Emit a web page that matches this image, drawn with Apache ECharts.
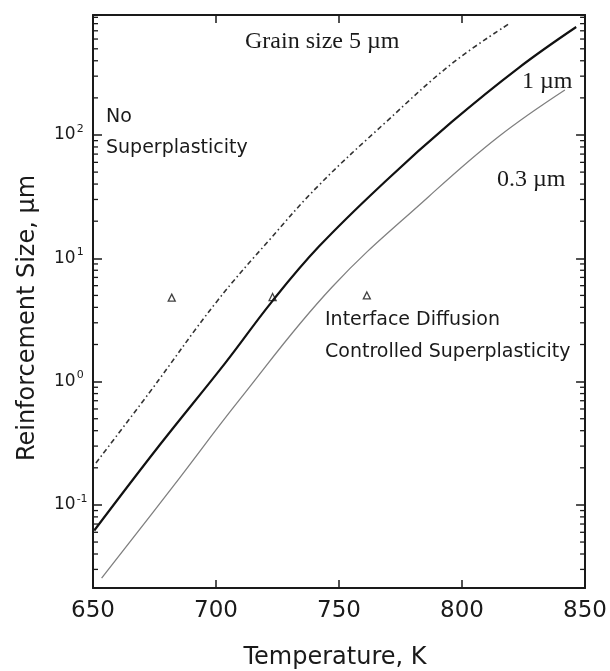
<!DOCTYPE html>
<html>
<head>
<meta charset="utf-8">
<script src="https://cdn.jsdelivr.net/npm/echarts@6/dist/echarts.min.js"></script>
<style>
  html, body { margin: 0; padding: 0; background: #fff; }
  #chart { width: 610px; height: 671px; }
</style>
</head>
<body>
<div id="chart"></div>
<script>
(function () {
    // temperatures (K) and reinforcement sizes (um)
    const temp5 = [651.2, 673.1, 700.2, 721.7, 741.9, 769.0, 795.7, 819.6];
    const size5 = [0.219, 0.824, 4.43, 14.1, 39.3, 127, 377, 809];

    const temp1 = [650.5, 677.1, 703.8, 722.9, 741.9, 769.0, 795.7, 822.9, 846.4];
    const size1 = [0.062, 0.306, 1.42, 4.5, 12.5, 42.4, 127, 349, 751];

    const temp03 = [653.5, 682.4, 709.5, 747.2, 786.4, 814.8, 841.8];
    const size03 = [0.0255, 0.14, 0.71, 5.85, 31.6, 96.9, 232];

    const triTemp = [682, 723, 761.3];
    const triSize = [4.8, 4.85, 5.0];

    const xMin = 650, xMax = 850, xStep = 50;
    const yMin = 0.0212, yMax = 940;

    // minor tick values on the log axis (2..9 x 10^k)
    const minorVals = [];
    for (let k = -2; k <= 2; k++) {
        for (let m = 2; m <= 9; m++) {
            const v = m * Math.pow(10, k);
            if (v > yMin && v < yMax) minorVals.push(v);
        }
    }

    const pair = (xs, ys) => xs.map((x, i) => [x, ys[i]]);
    const ink = '#1a1a1a';
    const sans = 'DejaVu Sans';
    const serif = 'Liberation Serif';

    const logLabel = function (v) {
        const l = Math.log10(v);
        const e = Math.round(l);
        if (Math.abs(l - e) > 1e-6) return '';
        return '{b|10}{s|' + e + '}';
    };

    const option = {
        animation: false,
        backgroundColor: '#fff',
        grid: { left: 93, right: 23, top: 15, bottom: 83 },
        xAxis: [
            {
                type: 'value', position: 'bottom', min: xMin, max: xMax, interval: xStep,
                axisLine: { lineStyle: { color: ink, width: 2 } },
                axisTick: { inside: true, length: 8, lineStyle: { color: ink, width: 1.5 } },
                axisLabel: { margin: 12, color: ink, fontSize: 23, fontFamily: sans },
                splitLine: { show: false }
            },
            {
                type: 'value', position: 'top', min: xMin, max: xMax, interval: xStep,
                axisLine: { lineStyle: { color: ink, width: 2 } },
                axisTick: { inside: true, length: 8, lineStyle: { color: ink, width: 1.5 } },
                axisLabel: { show: false },
                splitLine: { show: false }
            }
        ],
        yAxis: [
            {
                type: 'log', position: 'left', min: yMin, max: yMax, logBase: 10,
                axisLine: { lineStyle: { color: ink, width: 2 } },
                axisTick: { inside: true, length: 9, lineStyle: { color: ink, width: 1.5 } },
                axisLabel: {
                    align: 'left', margin: 39, color: ink,
                    formatter: logLabel,
                    rich: {
                        b: { fontSize: 17, fontFamily: sans, color: ink },
                        s: { fontSize: 11, fontFamily: sans, color: ink, padding: [0, 0, 12, 1] }
                    }
                },
                splitLine: { show: false }
            },
            {
                type: 'log', position: 'right', min: yMin, max: yMax, logBase: 10,
                axisLine: { lineStyle: { color: ink, width: 2 } },
                axisTick: { inside: true, length: 9, lineStyle: { color: ink, width: 1.5 } },
                axisLabel: { show: false },
                splitLine: { show: false }
            }
        ],
        series: [
            {
                name: '5 um', type: 'line', smooth: 0.4, symbol: 'none',
                data: pair(temp5, size5),
                lineStyle: { color: '#333', width: 1.6, type: [5, 3, 1.5, 3] }
            },
            {
                name: '1 um', type: 'line', smooth: 0.4, symbol: 'none',
                data: pair(temp1, size1),
                lineStyle: { color: '#111', width: 2.2 }
            },
            {
                name: '0.3 um', type: 'line', smooth: 0.4, symbol: 'none',
                data: pair(temp03, size03),
                lineStyle: { color: '#808080', width: 1.3 }
            },
            {
                name: 'points', type: 'scatter', symbol: 'triangle', symbolSize: 7,
                data: pair(triTemp, triSize),
                itemStyle: { color: '#fff', borderColor: '#111', borderWidth: 1.3 }
            },
            {
                name: 'minor ticks', type: 'custom', silent: true,
                data: minorVals.map(v => [xMin, v]),
                renderItem(params, api) {
                    const v = api.value(1);
                    const l = api.coord([xMin, v]);
                    const r = api.coord([xMax, v]);
                    const st = { stroke: ink, lineWidth: 1.3 };
                    return {
                        type: 'group',
                        children: [
                            { type: 'line', shape: { x1: l[0], y1: l[1], x2: l[0] + 5, y2: l[1] }, style: st },
                            { type: 'line', shape: { x1: r[0], y1: r[1], x2: r[0] - 5, y2: r[1] }, style: st }
                        ]
                    };
                }
            }
        ],
        graphic: [
            { type: 'text', left: 245, top: 30, style: { text: 'Grain size 5 µm', font: '24px "' + serif + '"', fill: ink } },
            { type: 'text', left: 522, top: 70, style: { text: '1 µm', font: '24px "' + serif + '"', fill: ink } },
            { type: 'text', left: 497, top: 168, style: { text: '0.3 µm', font: '24px "' + serif + '"', fill: ink } },
            { type: 'text', left: 106, top: 108, style: { text: 'No', font: '19px "' + sans + '"', fill: ink } },
            { type: 'text', left: 106, top: 139, style: { text: 'Superplasticity', font: '19px "' + sans + '"', fill: ink } },
            { type: 'text', left: 325, top: 311, style: { text: 'Interface Diffusion', font: '19px "' + sans + '"', fill: ink } },
            { type: 'text', left: 325, top: 343, style: { text: 'Controlled Superplasticity', font: '19px "' + sans + '"', fill: ink } },
            {
                type: 'text', x: 335, y: 658,
                style: { text: 'Temperature, K', font: '24px "' + sans + '"', fill: ink, textAlign: 'center', textVerticalAlign: 'middle' }
            },
            {
                type: 'text', x: 28, y: 318, rotation: Math.PI / 2,
                style: { text: 'Reinforcement Size, µm', font: '24px "' + sans + '"', fill: ink, textAlign: 'center', textVerticalAlign: 'middle' }
            }
        ]
    };

    const myChart = echarts.init(document.getElementById('chart'));
    myChart.setOption(option);
}());
</script>
</body>
</html>
